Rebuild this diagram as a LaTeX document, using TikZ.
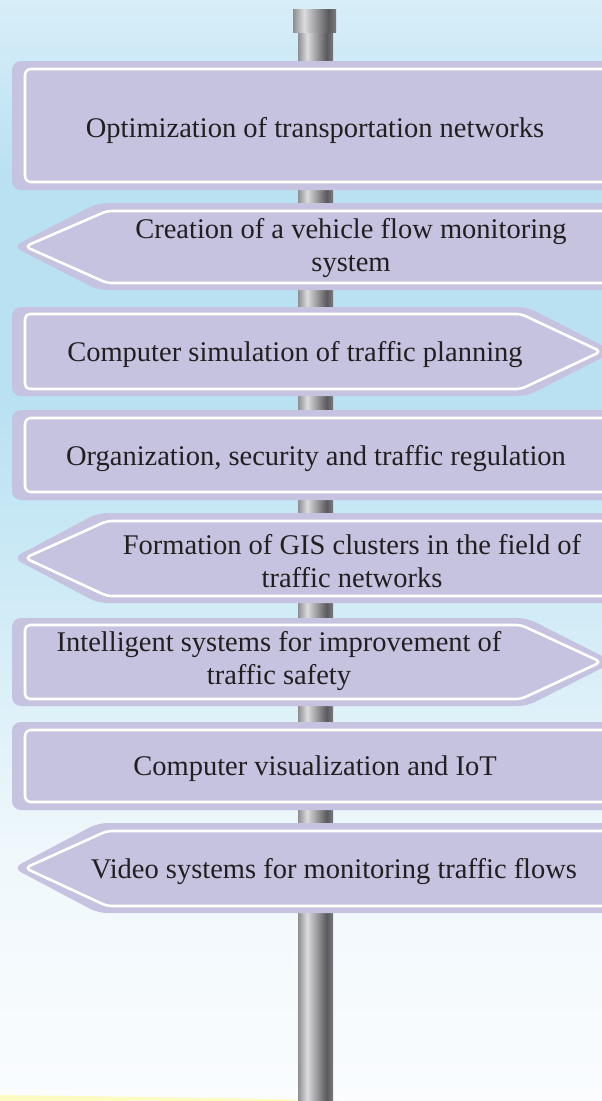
\documentclass[tikz,border=0pt]{standalone}
\usepackage{fontspec}
\setmainfont{Liberation Serif}
\definecolor{bgtop}{HTML}{D8EEF9}
\definecolor{bgmid}{HTML}{B9E1F1}
\definecolor{bgmid2}{HTML}{D2ECF7}
\definecolor{bglow}{HTML}{F0F8FC}
\definecolor{bgbot}{HTML}{FAFCFE}
\definecolor{signc}{HTML}{C6C3E0}
\definecolor{textc}{HTML}{231F20}
\definecolor{pa}{HTML}{8E8E90}
\definecolor{pb}{HTML}{DCDCDE}
\definecolor{pc}{HTML}{A4A4A6}
\definecolor{pd}{HTML}{5A5A5E}
\definecolor{pe}{HTML}{7A7A7E}
% tikz uses the central 25bp..75bp part of a declared shading
\pgfdeclareverticalshading{bgshade}{100bp}{color(0bp)=(bgbot); color(25bp)=(bgbot); color(36bp)=(bglow); color(47bp)=(bgmid2); color(57bp)=(bgmid); color(67bp)=(bgmid); color(75bp)=(bgtop); color(100bp)=(bgtop)}
\pgfdeclarehorizontalshading{poleshade}{100bp}{color(0bp)=(pa); color(25bp)=(pa); color(38bp)=(pb); color(50bp)=(pc); color(66bp)=(pd); color(75bp)=(pe); color(100bp)=(pe)}
\tikzset{
  signfill/.style={fill=signc},
  signline/.style={draw=white, line width=2.6pt, line join=round},
  label/.style={text=textc, font=\fontsize{28.5}{33}\selectfont, align=center, inner sep=0pt},
}
\newcommand{\rectsign}[2]{%
  \fill[signfill, rounded corners=9] (12,#1) rectangle (640,#2);
  \draw[signline, rounded corners=6] (25,#1+8) rectangle (630,#2-8);
}
\newcommand{\leftsign}[2]{%
  \pgfmathsetmacro\mymid{(#1+#2)/2}
  \fill[signfill, rounded corners=9] (13,\mymid) -- (98,#1) -- (640,#1) -- (640,#2) -- (98,#2) -- cycle;
  \draw[signline, rounded corners=5] (25,\mymid) -- (107,#1+8) -- (630,#1+8) -- (630,#2-7) -- (107,#2-7) -- cycle;
}
\newcommand{\rightsign}[2]{%
  \pgfmathsetmacro\mymid{(#1+#2)/2}
  \fill[signfill, rounded corners=9] (12,#1) -- (527,#1) -- (614,\mymid) -- (527,#2) -- (12,#2) -- cycle;
  \draw[signline, rounded corners=5] (25,#1+7) -- (521,#1+7) -- (601,\mymid) -- (521,#2-7) -- (25,#2-7) -- cycle;
}
\begin{document}
\begin{tikzpicture}[x=1pt, y=-1pt]
\useasboundingbox (0,0) rectangle (602,1101);
\begin{scope}
\clip (0,0) rectangle (602,1101);
\shade[shading=bgshade] (0,0) rectangle (602,1101);
\fill[yellow!30, opacity=0.8] (0,1095) .. controls (150,1097) and (300,1099) .. (340,1101) -- (0,1101) -- cycle;
% pole
\shade[shading=poleshade] (298,30) rectangle (333,1101);
\shade[shading=poleshade] (293,9) rectangle (336,32);
% signs
\rectsign{61}{190}
\leftsign{203}{290}
\rightsign{307}{396}
\rectsign{410}{500}
\leftsign{513}{603}
\rightsign{618}{706}
\rectsign{722}{810}
\leftsign{823}{913}
\end{scope}
\node[label] (s1) at (315,130) {Optimization of transportation networks};
\node[label] (s2) at (351,248) {Creation of a vehicle flow monitoring\\system};
\node[label] (s3) at (295,355) {Computer simulation of traffic planning};
\node[label] (s4) at (316,459) {Organization, security and traffic regulation};
\node[label] (s5) at (352,561) {Formation of GIS clusters in the field of\\traffic networks};
\node[label] (s6) at (279,661) {Intelligent systems for improvement of\\traffic safety};
\node[label] (s7) at (315,769) {Computer visualization and IoT};
\node[label] (s8) at (334,872) {Video systems for monitoring traffic flows};
\end{tikzpicture}
\end{document}
